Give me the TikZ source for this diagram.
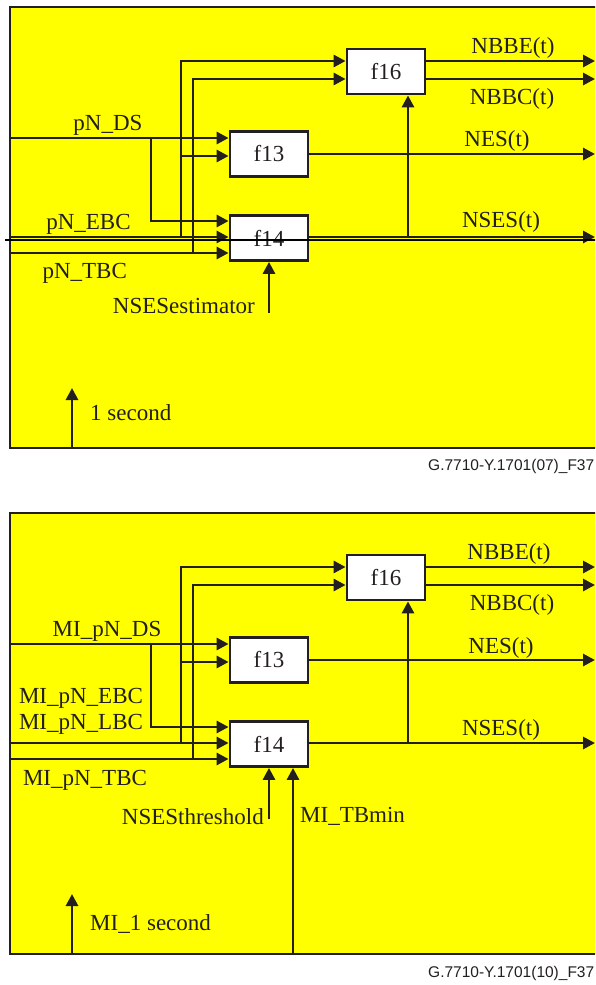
\documentclass[tikz,border=0pt]{standalone}
\usepackage{fontspec}
\setmainfont{Liberation Serif}
\newfontfamily\captionfont{Liberation Sans}
\usepackage{xcolor}
\usetikzlibrary{arrows.meta, calc}

\definecolor{ink}{RGB}{35,31,32}
\definecolor{panelyellow}{RGB}{255,255,0}

\begin{document}
\begin{tikzpicture}[x=1pt, y=-1pt,
    sig/.style={draw=ink, line width=2.8pt, -{Triangle[length=12pt, width=12pt]}},
    fbox/.style={draw=ink, line width=2.8pt, fill=white, minimum width=78pt, minimum height=45pt,
                 inner sep=0pt, text=ink, font=\fontsize{23}{27}\selectfont},
    lbl/.style={inner sep=0pt, anchor=base, text=ink, font=\fontsize{23}{27}\selectfont},
    tag/.style={inner sep=0pt, anchor=base west, text=ink, font=\captionfont\fontsize{15.5}{18}\selectfont}]

        % 1. Page size and the two yellow panels (cut off at the right edge)
        \useasboundingbox (0,0) rectangle (595,985);
        \clip (0,0) rectangle (595,985);
        \draw[ink, line width=2.6pt, fill=panelyellow] (10,7) rectangle (620,448);
        \draw[ink, line width=2.6pt, fill=panelyellow] (10,513) rectangle (620,954);

        % 2. Upper panel: the function blocks
        \node[fbox] (f16) at (386,71.5) {f16};
        \node[fbox] (f13) at (269,154) {f13};
        \node[fbox] (f14) at (269,238) {f14};

        % Input and output points of the upper panel
        \coordinate (ds) at (10,138);
        \coordinate (dsSplit) at (151,138);
        \coordinate (ebc) at (10,237);
        \coordinate (ebcUp) at (181,237);
        \coordinate (ebcTap) at (181,156);
        \coordinate (tbc) at (10,253);
        \coordinate (tbcUp) at (193,253);
        \coordinate (outBBE) at (595,61);
        \coordinate (outBBC) at (595,79);
        \coordinate (outNES) at (595,154);
        \coordinate (outNSES) at (595,237);
        \coordinate (nsesTap) at (408,237);
        \coordinate (est) at (269,313);
        \coordinate (secBase) at (72,448);
        \coordinate (secTip) at (72,388);

        % 3. Upper panel: signal lines
        \draw[sig] (ds) -- (ds -| f13.west);
        \draw[sig] (dsSplit) |- ([yshift=17pt]f14.west);
        \draw[sig] (ebc) -- (ebc -| f14.west);
        \draw[sig] (ebcUp) |- ([yshift=10.5pt]f16.west);
        \draw[sig] (ebcTap) -- (ebcTap -| f13.west);
        \draw[sig] (tbc) -- (tbc -| f14.west);
        \draw[sig] (tbcUp) |- ([yshift=-7.5pt]f16.west);
        \draw[sig] (f16.east |- outBBE) -- (outBBE);
        \draw[sig] (f16.east |- outBBC) -- (outBBC);
        \draw[sig] (f13.east |- outNES) -- (outNES);
        \draw[sig] (f14.east |- outNSES) -- (outNSES);
        \draw[sig] (nsesTap) -- (nsesTap |- f16.south);
        \draw[sig] (est) -- (f14.south);
        \draw[sig] (secBase) -- (secTip);

        % the thin line running straight through f14
        \coordinate (strayL) at (5,240);
        \coordinate (strayR) at (620,240);
        \draw[black, line width=1.6pt] (strayL) -- (strayR);

        % 4. Upper panel: labels
        \node[lbl] (lDS) at (108,130.5) {pN\_DS};
        \node[lbl] (lEBC) at (88.5,229) {pN\_EBC};
        \node[lbl] (lTBC) at (84.7,278) {pN\_TBC};
        \node[lbl, anchor=base east] (lEst) at (255,313) {NSESestimator};
        \node[lbl, anchor=base west] (lSec) at (90,420) {1 second};
        \node[lbl] (lBBE) at (513,53) {NBBE(t)};
        \node[lbl] (lBBC) at (512,104) {NBBC(t)};
        \node[lbl] (lNES) at (497,146.5) {NES(t)};
        \node[lbl] (lNSES) at (501,227.5) {NSES(t)};
        \node[tag] (capTop) at (428,470.5) {G.7710-Y.1701(07)\_F37};

        % 5. Lower panel: the function blocks (same layout, 506 lower)
        \node[fbox] (f16MI) at (386,577.5) {f16};
        \node[fbox] (f13MI) at (269,660) {f13};
        \node[fbox] (f14MI) at (269,744) {f14};

        % Input and output points of the lower panel
        \coordinate (dsMI) at (10,644);
        \coordinate (dsSplitMI) at (151,644);
        \coordinate (ebcMI) at (10,743);
        \coordinate (ebcUpMI) at (181,743);
        \coordinate (ebcTapMI) at (181,662);
        \coordinate (tbcMI) at (10,759);
        \coordinate (tbcUpMI) at (193,759);
        \coordinate (outBBEMI) at (595,567);
        \coordinate (outBBCMI) at (595,585);
        \coordinate (outNESMI) at (595,660);
        \coordinate (outNSESMI) at (595,743);
        \coordinate (nsesTapMI) at (408,743);
        \coordinate (thr) at (269,819);
        \coordinate (tbmin) at (293,954);
        \coordinate (secBaseMI) at (72,954);
        \coordinate (secTipMI) at (72,894);

        % 6. Lower panel: signal lines
        \draw[sig] (dsMI) -- (dsMI -| f13MI.west);
        \draw[sig] (dsSplitMI) |- ([yshift=17pt]f14MI.west);
        \draw[sig] (ebcMI) -- (ebcMI -| f14MI.west);
        \draw[sig] (ebcUpMI) |- ([yshift=10.5pt]f16MI.west);
        \draw[sig] (ebcTapMI) -- (ebcTapMI -| f13MI.west);
        \draw[sig] (tbcMI) -- (tbcMI -| f14MI.west);
        \draw[sig] (tbcUpMI) |- ([yshift=-7.5pt]f16MI.west);
        \draw[sig] (f16MI.east |- outBBEMI) -- (outBBEMI);
        \draw[sig] (f16MI.east |- outBBCMI) -- (outBBCMI);
        \draw[sig] (f13MI.east |- outNESMI) -- (outNESMI);
        \draw[sig] (f14MI.east |- outNSESMI) -- (outNSESMI);
        \draw[sig] (nsesTapMI) -- (nsesTapMI |- f16MI.south);
        \draw[sig] (thr) -- (f14MI.south);
        \draw[sig] (tbmin) -- (tbmin |- f14MI.south);
        \draw[sig] (secBaseMI) -- (secTipMI);

        % 7. Lower panel: labels
        \node[lbl] (lDSMI) at (107,636.5) {MI\_pN\_DS};
        \node[lbl] (lEBCMI) at (81,703.3) {MI\_pN\_EBC};
        \node[lbl] (lLBCMI) at (81,729.3) {MI\_pN\_LBC};
        \node[lbl] (lTBCMI) at (85,785) {MI\_pN\_TBC};
        \node[lbl, anchor=base east] (lThr) at (264,824) {NSESthreshold};
        \node[lbl, anchor=base west] (lTBmin) at (300,822) {MI\_TBmin};
        \node[lbl, anchor=base west] (lSecMI) at (90,930) {MI\_1 second};
        \node[lbl] (lBBEMI) at (509,559.3) {NBBE(t)};
        \node[lbl] (lBBCMI) at (512,610) {NBBC(t)};
        \node[lbl] (lNESMI) at (501,653.3) {NES(t)};
        \node[lbl] (lNSESMI) at (501,735) {NSES(t)};
        \node[tag] (capBottom) at (428,977) {G.7710-Y.1701(10)\_F37};

    \end{tikzpicture}
\end{document}
